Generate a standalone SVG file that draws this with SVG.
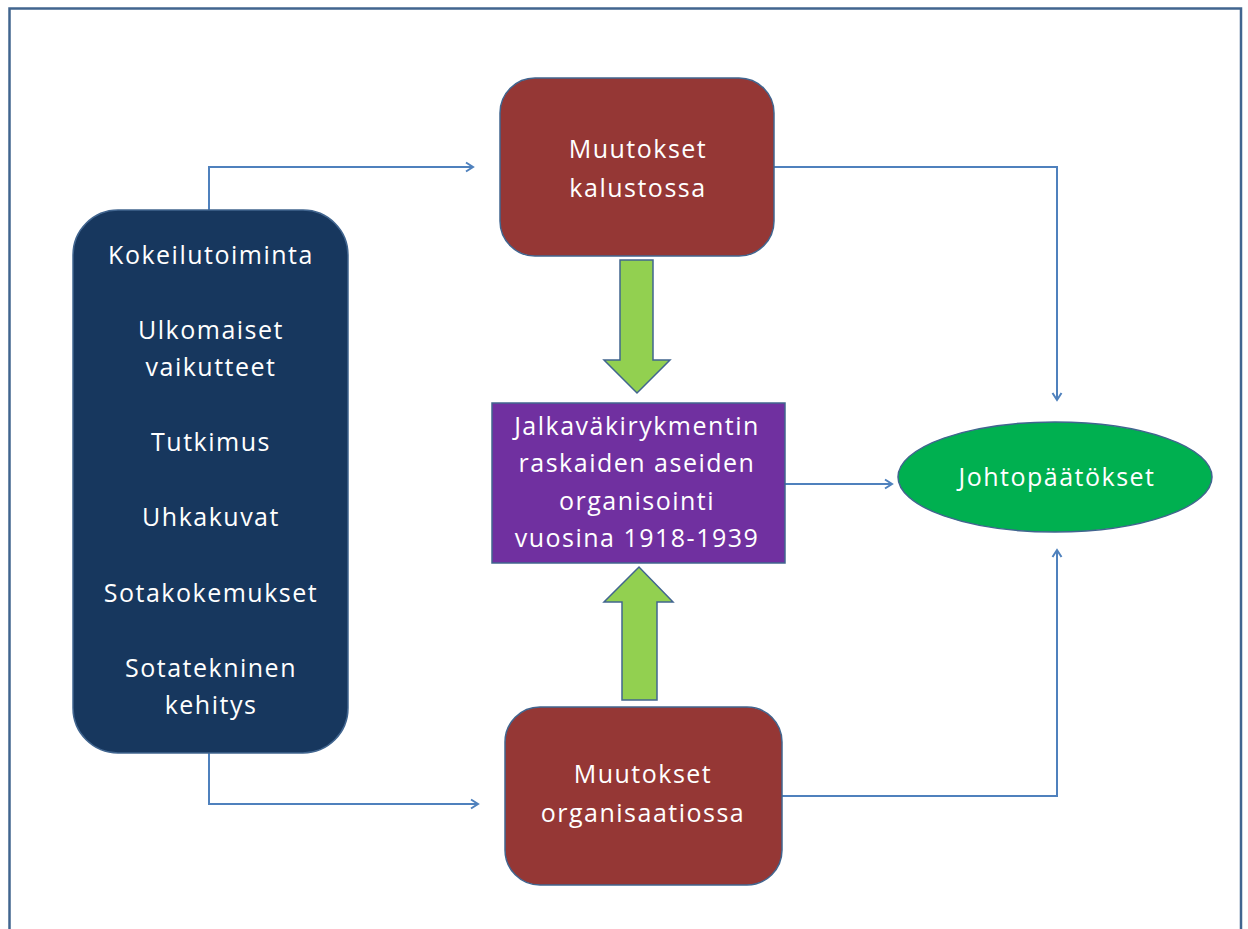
<svg xmlns="http://www.w3.org/2000/svg" width="1248" height="929" viewBox="0 0 1248 929">
<style>
.t{font-family:"Open Sans","Liberation Sans",sans-serif;font-size:25px;letter-spacing:1.5px;fill:#ffffff;text-anchor:middle}
.c{fill:none;stroke:#4F81BD;stroke-width:2}
.b{stroke:#41658F;stroke-width:1.5}
</style>
<defs>
<marker id="ah" markerWidth="12" markerHeight="12" refX="9" refY="6" orient="auto" markerUnits="userSpaceOnUse">
<path d="M2,1.5 L9,6 L2,10.5" fill="none" stroke="#4F81BD" stroke-width="2"/>
</marker>
</defs>
<rect width="1248" height="929" fill="#ffffff"/>
<path d="M9.5,929 V8.5 H1241 V929" fill="none" stroke="#41658F" stroke-width="2.5"/>
<g id="connectors">
<path class="c" d="M209,210 V167 H473" marker-end="url(#ah)"/>
<path class="c" d="M209,753 V804 H478" marker-end="url(#ah)"/>
<path class="c" d="M774,167 H1057 V400" marker-end="url(#ah)"/>
<path class="c" d="M782,796 H1057 V550" marker-end="url(#ah)"/>
<path class="c" d="M785,484 H892" marker-end="url(#ah)"/>
<path d="M620,260 H653 V360 H670 L637,393 L604,360 H620 Z" fill="#92D050" stroke="#41658F" stroke-width="1.5"/>
<path d="M622,700 H657 V602 H673 L639,567 L604,602 H622 Z" fill="#92D050" stroke="#41658F" stroke-width="1.5"/>
</g>
<g id="factors">
<rect x="73" y="210" width="275" height="543" rx="45" fill="#17375E" class="b"/>
<text class="t" x="211" y="264">Kokeilutoiminta</text>
<text class="t" x="211" y="339">Ulkomaiset</text>
<text class="t" x="211" y="376">vaikutteet</text>
<text class="t" x="211" y="451">Tutkimus</text>
<text class="t" x="211" y="526">Uhkakuvat</text>
<text class="t" x="211" y="602">Sotakokemukset</text>
<text class="t" x="211" y="677">Sotatekninen</text>
<text class="t" x="211" y="714">kehitys</text>
</g>
<g id="kalusto">
<rect x="500" y="78" width="274" height="178" rx="35" fill="#953735" class="b"/>
<text class="t" x="638" y="158">Muutokset</text>
<text class="t" x="638" y="197">kalustossa</text>
</g>
<g id="organisaatio">
<rect x="505" y="707" width="277" height="178" rx="35" fill="#953735" class="b"/>
<text class="t" x="643" y="783">Muutokset</text>
<text class="t" x="643" y="822">organisaatiossa</text>
</g>
<g id="aihe">
<rect x="492" y="403" width="293" height="160" fill="#7030A0" class="b"/>
<text class="t" x="637" y="435">Jalkaväkirykmentin</text>
<text class="t" x="637" y="472">raskaiden aseiden</text>
<text class="t" x="637" y="510">organisointi</text>
<text class="t" x="637" y="547">vuosina 1918-1939</text>
</g>
<g id="johtopaatokset">
<ellipse cx="1055" cy="477" rx="157" ry="55" fill="#00B050" class="b"/>
<text class="t" x="1057" y="486">Johtopäätökset</text>
</g>
</svg>
